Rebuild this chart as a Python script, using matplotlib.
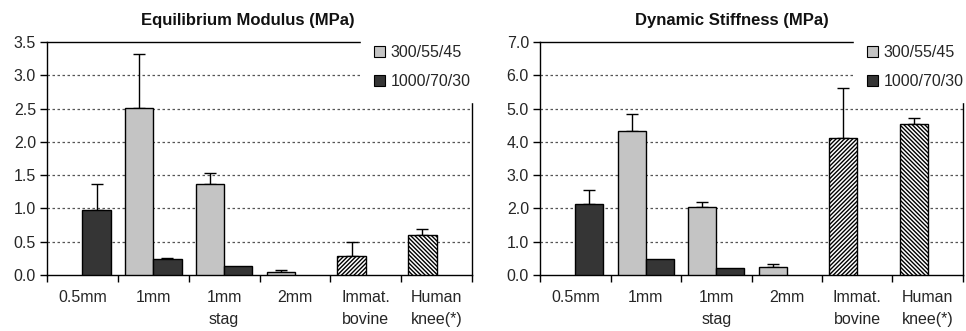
import numpy as np
import matplotlib
matplotlib.use("Agg")
import matplotlib.pyplot as plt
from matplotlib.patches import Patch

plt.rcParams['font.family'] = ['Liberation Sans', 'DejaVu Sans']
plt.rcParams['hatch.linewidth'] = 1.0

categories = ["0.5mm", "1mm", "1mm\nstag", "2mm", "Immat.\nbovine", "Human\nknee(*)"]
series_names = ["300/55/45", "1000/70/30"]

# Equilibrium Modulus (MPa)
eq_light = [np.nan, 2.51, 1.36, 0.05, np.nan, np.nan]
eq_light_err = [0, 0.81, 0.17, 0.02, 0, 0]
eq_dark = [0.97, 0.24, 0.14, np.nan, np.nan, np.nan]
eq_dark_err = [0.39, 0.02, 0.0, 0, 0, 0]
eq_native = [np.nan, np.nan, np.nan, np.nan, 0.28, 0.60]
eq_native_err = [0, 0, 0, 0, 0.22, 0.09]

# Dynamic Stiffness (MPa)
ds_light = [np.nan, 4.34, 2.04, 0.25, np.nan, np.nan]
ds_light_err = [0, 0.50, 0.14, 0.08, 0, 0]
ds_dark = [2.12, 0.48, 0.20, np.nan, np.nan, np.nan]
ds_dark_err = [0.42, 0.0, 0.0, 0, 0, 0]
ds_native = [np.nan, np.nan, np.nan, np.nan, 4.11, 4.53]
ds_native_err = [0, 0, 0, 0, 1.51, 0.18]

native_hatches = ["", "", "", "", "////////", "\\\\\\\\\\\\\\\\"]

LIGHT = "#c4c4c4"
DARK = "#353535"
TXT = "#262626"

fig = plt.figure(figsize=(9.66, 3.31), dpi=100)

def panel(rect, title, title_x, light, light_err, dark, dark_err, native, native_err,
          ymax, ystep, leg_x):
    ax = fig.add_axes(rect)
    x = np.arange(len(categories))
    w = 0.4
    ekw = dict(ecolor="black", elinewidth=1.0, capsize=4, capthick=1.0)

    def draw(vals, errs, offset, color, hatches=None):
        for i, (v, e) in enumerate(zip(vals, errs)):
            if np.isnan(v):
                continue
            h = hatches[i] if hatches else None
            ax.bar(x[i] + offset, v, w, color=color, edgecolor="black",
                   linewidth=1.0, hatch=h, zorder=3)
            if e > 0.005:
                ax.errorbar(x[i] + offset, v, yerr=[[0], [e]], fmt="none",
                            zorder=2, **ekw)

    draw(light, light_err, -0.2, LIGHT)
    draw(dark, dark_err, 0.2, DARK)
    draw(native, native_err, -0.2, "white", native_hatches)

    ax.set_xlim(-0.5, len(categories) - 0.5)
    ax.set_ylim(0, ymax)
    yt = np.arange(0, ymax + 1e-9, ystep)
    ax.set_yticks(yt)
    ax.set_yticklabels([f"{t:.1f}" for t in yt])
    for t in yt[1:-1]:
        ax.axhline(t, color="#555555", linestyle=(0, (2, 2)), linewidth=0.9, zorder=1)

    ax.set_xticks(x)
    ax.set_xticklabels(categories, fontsize=11.5, color=TXT, linespacing=1.55)
    ax.set_xticks(np.arange(-0.5, len(categories)), minor=True)
    ax.tick_params(axis="x", which="major", length=0, pad=11)
    ax.tick_params(axis="x", which="minor", length=5, width=1.0, direction="out")
    ax.tick_params(axis="y", length=5, width=1.0, labelsize=11.5, labelcolor=TXT, pad=3)
    for s in ax.spines.values():
        s.set_linewidth(1.0)
        s.set_color("black")

    handles = [Patch(facecolor=LIGHT, edgecolor="black", linewidth=0.8),
               Patch(facecolor=DARK, edgecolor="black", linewidth=0.8)]
    leg = ax.legend(handles, series_names, loc="upper right",
                    bbox_to_anchor=(leg_x, 1.043), frameon=True, framealpha=1,
                    edgecolor="white", facecolor="white", fontsize=11.5,
                    handlelength=0.7, handleheight=0.7, handletextpad=0.35,
                    labelspacing=0.9, borderpad=0.8, borderaxespad=0.0, fancybox=False)
    leg.set_zorder(10)
    for t in leg.get_texts():
        t.set_color(TXT)
    fig.text(title_x, 1 - 20 / 331, title, ha="center", va="center",
             fontsize=12, fontweight="bold", color="#111111",
             family=["Liberation Sans Narrow", "Liberation Sans"])
    return ax

panel([47 / 966, 1 - 275 / 331, (472 - 47) / 966, (275 - 42) / 331],
      "Equilibrium Modulus (MPa)", 248 / 966,
      eq_light, eq_light_err, eq_dark, eq_dark_err, eq_native, eq_native_err, 3.5, 0.5, 1.026)
panel([540 / 966, 1 - 275 / 331, (963 - 540) / 966, (275 - 42) / 331],
      "Dynamic Stiffness (MPa)", 732 / 966,
      ds_light, ds_light_err, ds_dark, ds_dark_err, ds_native, ds_native_err, 7.0, 1.0, 1.031)

fig.savefig("out.png", dpi=100)
